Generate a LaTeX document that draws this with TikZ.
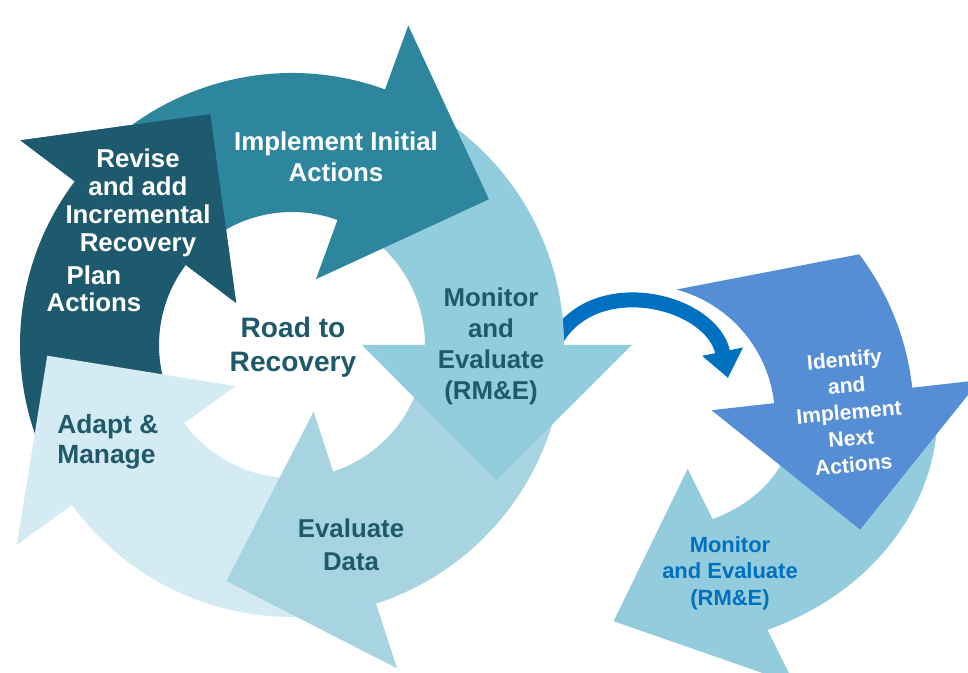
\documentclass[tikz,border=0pt]{standalone}
\usepackage{fontspec}
\setmainfont{Liberation Sans}
\usepackage{xcolor}
\usetikzlibrary{arrows.meta}
\definecolor{ReviseCol}{HTML}{1E5A6E}
\definecolor{ImplCol}{HTML}{2D869E}
\definecolor{MonCol}{HTML}{92CDDD}
\definecolor{EvalCol}{HTML}{A8D4E2}
\definecolor{AdaptCol}{HTML}{D4EBF3}
\definecolor{IdentCol}{HTML}{558ED5}
\definecolor{NextMonCol}{HTML}{93CCDD}
\definecolor{ArcCol}{HTML}{0070C0}
\definecolor{TextDark}{HTML}{1F5A6B}
% ring arrow: outer tail angle, inner tail angle, head angle, colour
\newcommand{\ringarrow}[4]{\fill[#4] (#1:272) arc[start angle=#1,end angle=#3,radius=272] -- (#3:340) -- ({#3-33.5}:245) -- (#3:70) -- (#3:133) arc[start angle=#3,end angle=#2,radius=133] -- cycle;}
\newcommand{\ringhead}[2]{\fill[#2] (#1:340) -- ({#1-33.5}:245) -- (#1:70) -- cycle;}

\begin{document}
\begin{tikzpicture}[x=0.02cm,y=0.02cm,
  lbl/.style={inner sep=0pt,align=center,text=TextDark}]
 \useasboundingbox (0,0) rectangle (968,673);
 \clip (0,0) rectangle (968,673);
 \fill[white] (0,0) rectangle (968,673);

 \coordinate (arcstart) at (556,333);
 \coordinate (arcend) at (728,295);
 \draw[ArcCol,line width=8.5pt,-{Triangle[width=22.7pt,length=15.3pt]}] (arcstart) .. controls (595,401) and (712,373) .. (arcend);

 \begin{scope}[shift={(292,328)}]
  \ringarrow{216}{216}{143}{ReviseCol}
  \ringarrow{-72}{-72}{-144}{AdaptCol}
  \ringarrow{0}{0}{-72}{EvalCol}
  \ringarrow{70}{70}{0}{MonCol}
  \ringarrow{143}{143}{70}{ImplCol}
  \ringhead{143}{ReviseCol}
 \end{scope}

 \begin{scope}[shift={(660,260)},xscale=1.02,yscale=0.865]
  \ringarrow{3}{3}{-67.2}{NextMonCol}
 \end{scope}
 \begin{scope}[shift={(642,255)}]
  \ringarrow{37}{75}{6.4}{IdentCol}
 \end{scope}

 \node[lbl,text=white,font=\bfseries\fontsize{14.7}{17.6}\selectfont] (implText) at (336,516) {Implement Initial\\Actions};
 \node[lbl,text=white,font=\bfseries\fontsize{14.7}{15.9}\selectfont] (reviseText) at (138,470) {Revise\\and add\\Incremental\\Recovery};
 \node[lbl,text=white,font=\bfseries\fontsize{14.7}{15.6}\selectfont] (planText) at (94,384.5) {Plan\\Actions};
 \node[lbl,font=\bfseries\fontsize{16}{19.3}\selectfont] (roadText) at (293,326) {Road to\\Recovery};
 \node[lbl,font=\bfseries\fontsize{14.7}{17.6}\selectfont] (monText) at (491,326.5) {Monitor\\and\\Evaluate\\(RM\&E)};
 \node[lbl,font=\bfseries\fontsize{14.7}{18.7}\selectfont] (evalText) at (351,128.5) {Evaluate\\Data};
 \node[lbl,align=left,anchor=west,font=\bfseries\fontsize{15}{17}\selectfont] (adaptText) at (57,231) {Adapt \&\\Manage};
 \node[lbl,text=white,rotate=5,font=\bfseries\fontsize{12}{15}\selectfont] (identText) at (849,261) {Identify\\and\\Implement\\Next\\Actions};
 \node[lbl,text=ArcCol,font=\bfseries\fontsize{12.5}{15}\selectfont] (nextMonText) at (730,100) {Monitor\\and Evaluate\\(RM\&E)};
\end{tikzpicture}
\end{document}
